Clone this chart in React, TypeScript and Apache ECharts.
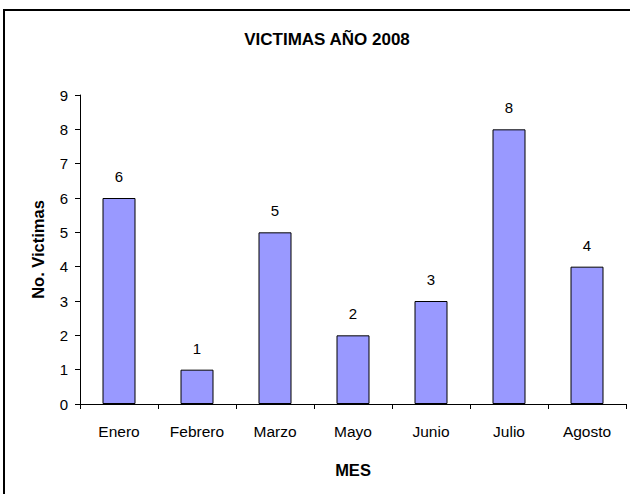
import React, { useEffect, useRef } from "react";
import * as echarts from "echarts";

const categories = ["Enero", "Febrero", "Marzo", "Mayo", "Junio", "Julio", "Agosto"];
const victimas = [6, 1, 5, 2, 3, 8, 4];
const titleText = "VICTIMAS AÑO 2008";
const yAxisName = "No. Victimas";
const xAxisName = "MES";

export default function App() {
  const ref = useRef<HTMLDivElement>(null);
  useEffect(() => {
    if (!ref.current) return;
    const chart = echarts.init(ref.current, null, { renderer: "svg" });
    const font = "Liberation Sans, Arial, sans-serif";
    chart.setOption({
      animation: false,
      backgroundColor: "#ffffff",
      textStyle: { fontFamily: font, color: "#000" },
      title: {
        text: titleText,
        left: 322,
        top: 26,
        textAlign: "center",
        textStyle: { fontFamily: font, fontSize: 17, fontWeight: "bold", color: "#000" },
      },
      graphic: [
        {
          type: "rect",
          shape: { x: 4, y: 10, width: 700, height: 600 },
          style: { fill: "none", stroke: "#000", lineWidth: 2 },
          silent: true,
          z: 100,
        },
      ],
      grid: { left: 80, right: 4, top: 95, bottom: 90, containLabel: false },
      xAxis: {
        type: "category",
        data: categories,
        name: xAxisName,
        nameLocation: "middle",
        nameGap: 57,
        nameTextStyle: { fontFamily: font, fontSize: 16.5, fontWeight: "bold", color: "#000" },
        axisLine: { lineStyle: { color: "#000", width: 1 } },
        axisTick: { show: true, length: 5, alignWithLabel: false, lineStyle: { color: "#000" } },
        axisLabel: { fontFamily: font, fontSize: 15.5, color: "#000", margin: 19, interval: 0 },
      },
      yAxis: {
        type: "value",
        min: 0,
        max: 9,
        interval: 1,
        name: yAxisName,
        nameLocation: "middle",
        nameRotate: 90,
        nameGap: 34,
        nameTextStyle: { fontFamily: font, fontSize: 16.5, fontWeight: "bold", color: "#000" },
        axisLine: { show: true, lineStyle: { color: "#000", width: 1 } },
        axisTick: { show: true, length: 5, lineStyle: { color: "#000" } },
        axisLabel: { fontFamily: font, fontSize: 15, color: "#000", margin: 12 },
        splitLine: { show: false },
      },
      series: [
        {
          type: "bar",
          data: victimas,
          barWidth: 33,
          itemStyle: { color: "#9999FF", borderColor: "#000", borderWidth: 1 },
          label: {
            show: true,
            position: "top",
            distance: 14,
            fontFamily: font,
            fontSize: 15,
            color: "#000",
          },
        },
      ],
    });
    return () => chart.dispose();
  }, []);
  return (
    <div
      ref={ref}
      style={{ position: "fixed", left: 0, top: 0, width: 630, height: 494 }}
    />
  );
}
